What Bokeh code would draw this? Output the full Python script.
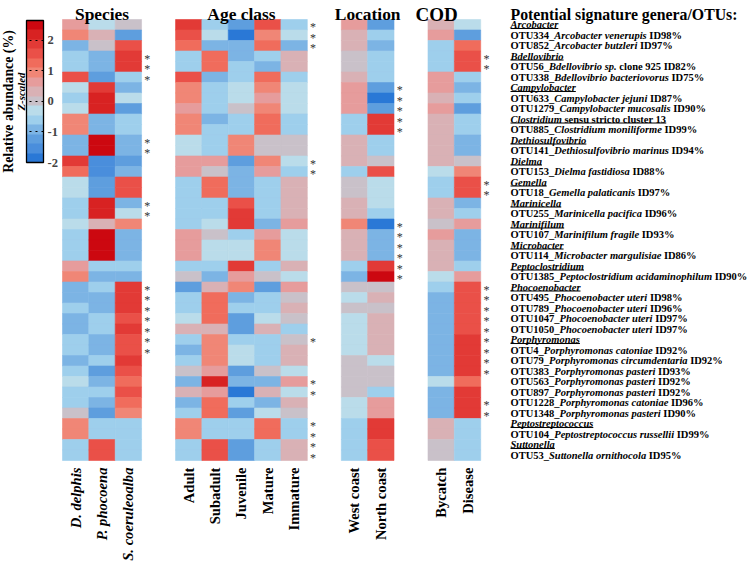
from math import pi
from bokeh.plotting import figure
from bokeh.models import ColumnDataSource, LinearColorMapper, ColorBar, FixedTicker, Range1d
from bokeh.embed import file_html
from bokeh.resources import INLINE
from bokeh.core.properties import value

# ---------------- data ----------------
species_cols = ["D. delphis", "P. phocoena", "S. coeruleoalba"]
age_cols = ["Adult", "Subadult", "Juvenile", "Mature", "Immature"]
location_cols = ["West coast", "North coast"]
cod_cols = ["Bycatch", "Disease"]

row_otu = [None, "OTU334", "OTU852", None, "OTU56", "OTU338", None, "OTU633", "OTU1279",
           None, "OTU885", None, "OTU141", None, "OTU153", None, "OTU18", None, "OTU255",
           None, "OTU107", None, "OTU114", None, "OTU1385", None, "OTU495", "OTU789",
           "OTU1047", "OTU1050", None, "OTU4", "OTU79", "OTU383", "OTU563", "OTU897",
           "OTU1228", "OTU1348", None, "OTU104", None, "OTU53"]
row_taxon = ["Arcobacter", "Arcobacter venerupis", "Arcobacter butzleri",
             "Bdellovibrio", "Bdellovibrio sp.", "Bdellovibrio bacteriovorus",
             "Campylobacter", "Campylobacter jejuni", "Campylobacter mucosalis",
             "Clostridium", "Clostridium moniliforme",
             "Dethiosulfovibrio", "Dethiosulfovibrio marinus",
             "Dielma", "Dielma fastidiosa",
             "Gemella", "Gemella palaticanis",
             "Marinicella", "Marinicella pacifica",
             "Marinifilum", "Marinifilum fragile",
             "Microbacter", "Microbacter margulisiae",
             "Peptoclostridium", "Peptoclostridium acidaminophilum",
             "Phocoenobacter", "Phocoenobacter uteri", "Phocoenobacter uteri",
             "Phocoenobacter uteri", "Phocoenobacter uteri",
             "Porphyromonas", "Porphyromonas catoniae", "Porphyromonas circumdentaria",
             "Porphyromonas pasteri", "Porphyromonas pasteri", "Porphyromonas pasteri",
             "Porphyromonas catoniae", "Porphyromonas pasteri",
             "Peptostreptococcus", "Peptostreptococcus russellii",
             "Suttonella", "Suttonella ornithocola"]
row_suffix = ["", "ID98%", "ID97%", "", "clone 925 ID82%", "ID75%", "", "ID87%", "ID90%",
              "sensu stricto cluster 13", "ID99%", "", "ID94%", "", "ID88%", "", "ID97%",
              "", "ID96%", "", "ID93%", "", "ID86%", "", "ID90%", "", "ID98%", "ID96%",
              "ID97%", "ID97%", "", "ID92%", "ID92%", "ID93%", "ID92%", "ID92%", "ID96%",
              "ID90%", "", "ID99%", "", "ID95%"]

# z-scaled relative abundance, one list per column (42 rows, top to bottom)
d_delphis = [0.6, 0.95, -0.95, -0.6, -0.6, 1.55, -0.3, -0.6, -0.3, 0.95, 0.95, -0.95, -0.95, 1.9,
             1.25, -0.3, -0.3, -0.6, -0.6, -0.3, -0.6, -0.6, -0.6, 0.6, 0.95, -0.95, -0.95, -0.6,
             -0.95, -0.95, -0.6, -0.6, -0.95, -0.6, -0.3, -0.6, -0.6, 0.0, 0.95, 0.95, -0.6, -0.6]
p_phocoena = [-0.3, 0.3, 0.0, -0.95, -0.95, -1.25, 1.9, 2.2, 2.2, -0.95, -0.95, 2.5, 2.5, -1.55,
              -1.55, -1.25, -1.25, 2.2, 2.2, 0.3, 2.5, 2.5, 2.5, -0.6, -0.95, -0.6, -0.95, -0.95,
              -0.6, -0.6, -0.95, -0.95, -0.6, -1.25, -0.95, -0.6, -0.95, -1.25, -0.6, -0.6, 1.55, 1.55]
s_coeruleoalba = [0.0, -1.25, 1.55, 1.9, 1.9, -0.6, -0.95, -0.3, -1.25, -0.6, -0.6, -0.95, -0.95,
                  -1.25, -0.95, 1.55, 1.55, -0.95, -0.3, 0.95, -0.95, -0.95, -0.95, -0.6, -0.95,
                  1.9, 1.9, 1.9, 1.55, 1.9, 1.55, 1.55, 1.9, 1.55, 1.25, 1.55, 1.25, 0.95,
                  -0.6, -0.6, -0.6, -0.6]
adult = [1.9, 1.55, 1.25, -0.6, -0.6, 1.55, 0.95, 0.95, 0.6, 0.95, 0.95, -0.3, -0.3, 0.6, 0.6,
         -0.6, -0.6, -0.6, -0.6, -0.6, 0.6, 0.6, 0.6, -0.6, 0.0, -1.25, -0.6, -0.6, -0.3, 0.3,
         -0.6, -0.95, -0.6, 0.0, -0.95, 0.3, -0.95, -0.6, 0.95, 0.95, -0.6, -0.6]
subadult = [-0.6, -0.3, -0.95, 1.25, 1.25, -0.95, -0.6, -0.6, -0.6, -0.95, -0.6, -0.6, -0.6, 0.6,
            0.0, 1.25, 1.25, -0.6, -0.6, -0.3, 0.0, -0.3, -0.3, -0.6, -0.95, 0.3, 1.25, 1.25,
            1.25, 0.3, 0.95, 0.95, 0.95, 0.6, 2.2, 0.6, 1.25, 1.25, -0.6, -0.6, 1.55, 1.55]
juvenile = [-1.25, -1.85, -0.95, -0.95, -0.6, -0.6, -0.3, -0.3, 0.0, -0.6, -0.6, 0.95, 0.95,
            -1.25, -0.95, -0.95, -0.95, 1.55, 1.9, 1.9, -0.6, -0.3, -0.3, 1.9, 0.6, 0.95, -0.95,
            -0.6, -1.25, -1.25, -0.6, -0.3, -0.3, -1.25, -0.95, -1.85, -0.6, -1.25, -0.6, -0.6,
            -1.25, -1.25]
mature = [1.55, 0.95, 1.25, -0.6, -0.95, 1.25, 0.95, 0.6, 0.95, 1.25, 1.25, 0.0, 0.0, 0.95, 0.6,
          -0.6, -0.6, -0.6, -0.6, -0.95, 0.6, 0.95, 0.95, -0.6, 0.0, -1.25, -0.6, -0.6, -0.3, 0.3,
          -0.6, -0.6, -0.6, 0.0, -0.95, 0.3, -0.95, -0.3, 1.25, 1.25, -0.6, -0.6]
immature = [-0.6, -0.3, -0.95, 0.3, 0.3, -0.6, -0.3, -0.3, -0.3, -0.6, -0.6, 0.0, 0.0, -0.3, -0.6,
            0.3, 0.3, 0.3, 0.3, 0.6, -0.3, -0.3, -0.3, 0.3, -0.3, 0.6, 0.0, 0.3, 0.0, -0.6, 0.0,
            0.3, 0.3, -0.3, 0.6, -0.3, 0.3, 0.0, -0.6, -0.6, 0.3, 0.3]
west_coast = [0.6, 0.3, 0.3, 0.0, 0.0, 0.3, 0.6, 0.6, 0.6, -0.6, -0.6, 0.3, 0.3, 0.3, -0.6, 0.0,
              0.0, 0.3, 0.3, 0.95, 0.3, 0.3, 0.3, -0.6, -0.95, 0.0, -0.3, 0.0, -0.3, -0.3, -0.3,
              -0.3, 0.0, 0.0, 0.0, 0.0, -0.3, -0.3, -0.6, -0.6, -0.6, -0.6]
north_coast = [-1.25, -0.6, -0.95, -0.6, -0.6, -0.6, -1.25, -1.85, -1.25, 1.9, 1.9, -0.6, -0.6,
               0.0, 1.55, -0.3, -0.3, -0.3, -0.6, -1.85, -0.95, -0.95, -0.95, 1.9, 2.5, 0.0, 0.3,
               0.0, 0.3, 0.3, 0.3, 0.3, -0.3, 0.0, 0.0, -0.6, 0.6, 0.6, 1.9, 1.9, 1.55, 1.55]
bycatch = [0.3, 0.6, -0.6, -0.6, -0.6, 0.6, 0.6, 0.3, 0.6, 0.3, 0.3, 0.3, 0.3, 0.3, -0.3, -0.6,
           -0.6, 0.3, 0.3, 0.0, 0.6, 0.3, 0.3, 0.3, -0.3, -0.6, -0.95, -0.95, -0.95, -0.95, -0.95,
           -0.95, -0.95, -0.95, -0.3, -0.95, -0.95, -0.95, 0.3, 0.3, 0.0, 0.0]
disease = [-0.3, -1.25, 1.25, 1.55, 1.55, -0.6, -0.95, -0.6, -1.25, -0.6, -0.6, -0.95, -0.95, 0.0,
           0.95, 1.55, 1.55, -0.95, -0.6, 0.6, -0.95, -0.95, -0.95, -0.6, 0.6, 1.55, 1.55, 1.55,
           1.55, 1.55, 1.9, 1.9, 1.9, 1.9, 1.25, 1.9, 1.9, 1.9, -0.6, -0.6, -0.6, -0.6]

# rows (1-based) marked with an asterisk next to each panel
species_sig = [4, 5, 6, 12, 13, 18, 19, 26, 27, 28, 29, 30, 31, 32]
age_sig = [1, 2, 3, 14, 15, 31, 35, 36, 39, 40, 41, 42]
location_sig = [7, 8, 9, 10, 11, 20, 21, 22, 23, 24, 25]
cod_sig = [4, 5, 16, 17, 26, 27, 28, 29, 30, 31, 32, 33, 34, 37, 38]

colorbar_ticks = [-2, -1, 0, 1, 2]

panels = [
    ("Species", species_cols, [d_delphis, p_phocoena, s_coeruleoalba], species_sig, "bold italic"),
    ("Age class", age_cols, [adult, subadult, juvenile, mature, immature], age_sig, "bold"),
    ("Location", location_cols, [west_coast, north_coast], location_sig, "bold"),
    ("COD", cod_cols, [bycatch, disease], cod_sig, "bold"),
]
n_rows = len(row_taxon)

# ---------------- styling / geometry ----------------
PALETTE = ["#2a78d6", "#4a8edc", "#5e9ede", "#7cb4e4", "#9ecfec", "#badcea", "#c9c1c9",
           "#d9b1b5", "#e69c9c", "#f08676", "#f06c5c", "#ea5048", "#e23a36", "#d82222", "#cc0810"]
FONT = value("Liberation Serif")

W, H = 747, 564
REF_X0, REF_X1 = 0.0, 747.0
REF_Y0, REF_Y1 = 0.0, 564.0
CELL_REF, ROW_REF = 26.35, 10.5
HEAT_X_REF, HEAT_Y_REF = 62.0, 19.0
GAP = 34.0 / CELL_REF


def xu(ref):
    return (ref - HEAT_X_REF) / CELL_REF


def yu(ref):
    return (ref - HEAT_Y_REF) / ROW_REF


SX = W / (REF_X1 - REF_X0)
SY = H / (REF_Y1 - REF_Y0)
PX_PER_X = SX * CELL_REF

p = figure(width=W, height=H, x_range=Range1d(xu(REF_X0), xu(REF_X1)),
           y_range=Range1d(yu(REF_Y1), yu(REF_Y0)), output_backend="svg",
           toolbar_location=None, x_axis_location=None, y_axis_location=None,
           min_border=0)
p.outline_line_color = None
p.grid.visible = False

mapper = LinearColorMapper(palette=PALETTE, low=-2.0, high=2.65)

# heatmap cells
hx, hy, hz = [], [], []
tx, ty, tt, tfs = [], [], [], []
sx_, sy_ = [], []
lx, ly, lt, lstyle = [], [], [], []
start = 0.0
for title, cols, series, sig, lab_style in panels:
    for j, vals in enumerate(series):
        for i, v in enumerate(vals):
            hx.append(start + j + 0.5)
            hy.append(i + 0.5)
            hz.append(v)
    if title == "COD":
        tx.append(start + 0.33)
        tfs.append("19px")
    else:
        tx.append(start + len(cols) / 2.0)
        tfs.append("17.4px")
    tt.append(title)
    for r in sig:
        sx_.append(start + len(cols) + 0.22)
        sy_.append(r - 0.5 + 0.22)
    for j, c in enumerate(cols):
        lx.append(start + j + 0.5)
        ly.append(n_rows + 0.67)
        lt.append(c)
        lstyle.append(lab_style)
    start += len(cols) + GAP

src = ColumnDataSource(dict(x=hx, y=hy, z=hz))
cmap = {"field": "z", "transform": mapper}
p.rect(x="x", y="y", width=1, height=1, source=src, fill_color=cmap,
       line_color=cmap, line_width=0.6)

# panel titles
tsrc = ColumnDataSource(dict(x=tx, y=[yu(13.8)] * len(tx), t=tt, fs=tfs))
p.text(x="x", y="y", text="t", source=tsrc, text_font=FONT, text_font_style="bold",
       text_font_size="fs", text_align="center", text_baseline="alphabetic",
       text_color="black")

# significance asterisks
p.text(x=sx_, y=sy_, text=["*"] * len(sx_), text_font=FONT, text_font_size="12px",
       text_align="center", text_baseline="middle", text_color="#333333")

# column labels (rotated)
for st in ("bold italic", "bold"):
    idx = [k for k in range(len(lt)) if lstyle[k] == st]
    p.text(x=[lx[k] for k in idx], y=[ly[k] for k in idx], text=[lt[k] for k in idx],
           angle=pi / 2, text_font=FONT, text_font_style=st, text_font_size="14.6px",
           text_align="right", text_baseline="middle", text_color="black")

# ---------------- right-hand labels with mixed styles ----------------
BOLD = dict(zip("abcdefghijklmnopqrstuvwxyz",
                [500, 556, 444, 556, 444, 333, 500, 556, 278, 333, 556, 278, 833, 556, 500, 556,
                 556, 444, 389, 333, 556, 500, 722, 500, 500, 444]))
BOLD.update(dict(zip("ABCDEFGHIJKLMNOPQRSTUVWXYZ",
                     [722, 667, 722, 722, 667, 611, 778, 778, 389, 500, 778, 667, 944, 722, 778,
                      611, 778, 722, 556, 667, 722, 722, 1000, 722, 722, 667])))
BI = dict(zip("abcdefghijklmnopqrstuvwxyz",
              [500, 500, 444, 500, 444, 333, 500, 556, 278, 278, 500, 278, 778, 556, 500, 500,
               500, 389, 389, 278, 556, 444, 667, 500, 444, 389]))
BI.update(dict(zip("ABCDEFGHIJKLMNOPQRSTUVWXYZ",
                   [667, 667, 667, 722, 667, 667, 722, 778, 389, 500, 667, 611, 889, 722, 722,
                    611, 722, 667, 556, 611, 722, 667, 889, 667, 611, 611])))
for tbl in (BOLD, BI):
    for ch in "0123456789_":
        tbl[ch] = 500
    tbl.update({" ": 250, ".": 250, "%": 1000 if tbl is BOLD else 833, "/": 278, ":": 333})
TABLES = {"bold": BOLD, "bold italic": BI}

FS = 10.5
LX = xu(510)


def text_w(s, style, size):
    return sum(TABLES[style].get(ch, 500) for ch in s) * size / 1000.0


seg = {"bold": dict(x=[], y=[], t=[]), "bold italic": dict(x=[], y=[], t=[])}
ux0, ux1, uy = [], [], []
for i in range(n_rows):
    parts = []
    if row_otu[i]:
        parts.append((row_otu[i] + "_", "bold"))
    parts.append((row_taxon[i], "bold italic"))
    if row_suffix[i]:
        parts.append((" " + row_suffix[i], "bold"))
    cur = 0.0
    for s, st in parts:
        lead = len(s) - len(s.lstrip(" "))
        cur += lead * 250 * FS / 1000.0
        s2 = s.lstrip(" ")
        seg[st]["x"].append(LX + cur / PX_PER_X)
        seg[st]["y"].append(i + 0.5)
        seg[st]["t"].append(s2)
        cur += text_w(s2, st, FS)
    if row_otu[i] is None:
        ux0.append(LX)
        ux1.append(LX + cur / PX_PER_X)
        uy.append(i + 0.5 + 0.36)

for st, d in seg.items():
    p.text(x=d["x"], y=d["y"], text=d["t"], text_font=FONT, text_font_style=st,
           text_font_size=f"{FS}px", text_align="left", text_baseline="middle",
           text_color="black")
p.segment(x0=ux0, y0=uy, x1=ux1, y1=uy, line_color="black", line_width=1)

p.text(x=[LX], y=[yu(13.8)], text=["Potential signature genera/OTUs:"], text_font=FONT,
       text_font_style="bold", text_font_size="15.8px", text_align="left",
       text_baseline="alphabetic", text_color="black")

# ---------------- colour bar ----------------
cb_left = (26.0 - REF_X0) * SX
cb_bottom = H - (162.0 - REF_Y0) * SY
cb = ColorBar(color_mapper=mapper, location=(cb_left, cb_bottom), orientation="vertical",
              width=17, height=int(round(142 * SY)), padding=0,
              ticker=FixedTicker(ticks=colorbar_ticks),
              major_label_overrides={t: str(t) for t in colorbar_ticks},
              major_tick_in=16, major_tick_out=0, major_tick_line_color="black",
              major_tick_line_dash="dotted", major_tick_line_width=1,
              minor_tick_line_color=None,
              bar_line_color="black", bar_line_width=1.3,
              major_label_text_font="Liberation Serif", major_label_text_font_style="bold",
              major_label_text_font_size="12.5px", label_standoff=4,
              background_fill_color=None, border_line_color=None)
p.add_layout(cb)

p.text(x=[xu(8.0)], y=[yu(101)], text=["Relative abundance (%)"], angle=pi / 2,
       text_font=FONT, text_font_style="bold", text_font_size="13.8px",
       text_align="center", text_baseline="middle", text_color="black")
p.text(x=[xu(20)], y=[yu(91)], text=["Z-scaled"], angle=pi / 2,
       text_font=FONT, text_font_style="bold italic", text_font_size="10.9px",
       text_align="center", text_baseline="middle", text_color="black")

open("out.html", "w").write(file_html(p, INLINE))
